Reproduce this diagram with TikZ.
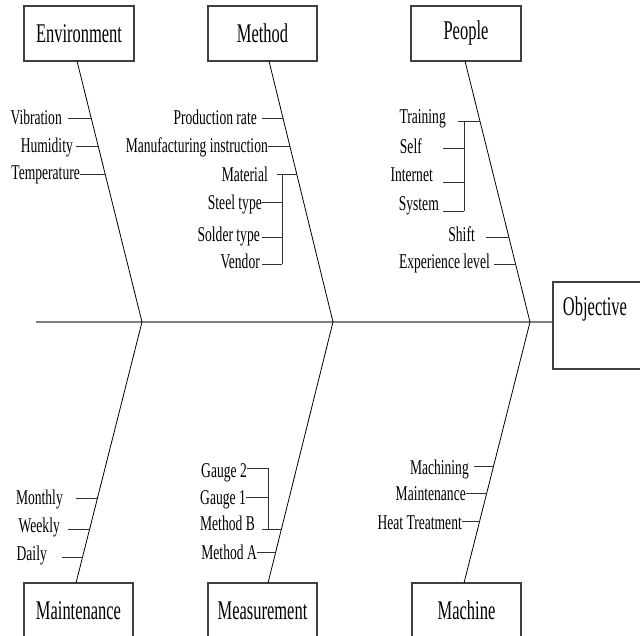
\documentclass[tikz,border=0pt]{standalone}
\usepackage{fontspec}
\newfontfamily\labfamily[FakeStretch=0.646]{Liberation Serif}
\newfontfamily\boxfamily[FakeStretch=0.61]{Liberation Serif}
\newcommand\labfont{\labfamily\fontsize{21}{24}\selectfont}
\newcommand\boxfont{\boxfamily\fontsize{27}{30}\selectfont}
\usetikzlibrary{calc}
\definecolor{spinegray}{HTML}{808080}
\definecolor{boxgray}{HTML}{404040}
\definecolor{twiggray}{HTML}{303030}
\tikzset{
  lab/.style={font=\labfont, inner sep=0pt, anchor=base east},
  catbox/.style={draw=boxgray, line width=1.2pt, font=\boxfont, minimum width=110pt, minimum height=55pt, inner sep=0pt},
  bone/.style={line width=0.8pt, black},
  twig/.style={line width=0.9pt, twiggray},
  spineline/.style={line width=1.8pt, spinegray},
}
\begin{document}
\begin{tikzpicture}[x=1pt,y=-1pt]
\useasboundingbox (0,0) rectangle (640,636);
\clip (0,0) rectangle (640,636);

% category boxes
\node[catbox] (env) at (79,33.5) {Environment};
\node[catbox, minimum width=109pt] (meth) at (262.5,33.5) {Method};
\node[catbox] (peop) at (466,33.5) {People};
\node[catbox, minimum width=109pt] (maint) at (78.5,610.5) {Maintenance};
\node[catbox, minimum width=109pt] (meas) at (262.5,610.5) {Measurement};
\node[catbox, minimum width=109pt] (mach) at (466.5,610.5) {Machine};
\node[catbox, minimum width=92pt, minimum height=87pt] (obj) at (599,325.5) {};
\node[font=\boxfont, inner sep=0pt] (objtext) at (595,309) {Objective};

% bone end points
\coordinate (eT) at (77,61);   \coordinate (eS) at (142,322);
\coordinate (mT) at (269,61);  \coordinate (mS) at (333,322);
\coordinate (pT) at (465,61);  \coordinate (pS) at (530,322);
\coordinate (aB) at (76,583);
\coordinate (sB) at (268,583);
\coordinate (cB) at (464,583);
\coordinate (tail) at (36,322);

% spine
\draw[spineline] (tail) -- (tail -| obj.west);

% bones
\draw[bone] (eT) -- (eS) -- (aB);
\draw[bone] (mT) -- (mS) -- (sB);
\draw[bone] (pT) -- (pS) -- (cB);

% junctions on bones
\coordinate (j1) at ($(eT)!{(118-61)/261}!(eS)$);
\coordinate (j2) at ($(eT)!{(146-61)/261}!(eS)$);
\coordinate (j3) at ($(eT)!{(174-61)/261}!(eS)$);
\coordinate (k1) at ($(mT)!{(118-61)/261}!(mS)$);
\coordinate (k2) at ($(mT)!{(146-61)/261}!(mS)$);
\coordinate (k3) at ($(mT)!{(174-61)/261}!(mS)$);
\coordinate (p1) at ($(pT)!{(121-61)/261}!(pS)$);
\coordinate (p2) at ($(pT)!{(237-61)/261}!(pS)$);
\coordinate (p3) at ($(pT)!{(264-61)/261}!(pS)$);
\coordinate (a1) at ($(eS)!{(498-322)/261}!(aB)$);
\coordinate (a2) at ($(eS)!{(529-322)/261}!(aB)$);
\coordinate (a3) at ($(eS)!{(557-322)/261}!(aB)$);
\coordinate (s1) at ($(mS)!{(529-322)/261}!(sB)$);
\coordinate (s2) at ($(mS)!{(552-322)/261}!(sB)$);
\coordinate (c1) at ($(pS)!{(466-322)/261}!(cB)$);
\coordinate (c2) at ($(pS)!{(493-322)/261}!(cB)$);
\coordinate (c3) at ($(pS)!{(521-322)/261}!(cB)$);

% bracket points
\coordinate (mb0) at (282,174); \coordinate (mb1) at (282,202);
\coordinate (mb2) at (282,237); \coordinate (mb3) at (282,264);
\coordinate (pb0) at (464,121); \coordinate (pb1) at (464,148);
\coordinate (pb2) at (464,182); \coordinate (pb3) at (464,211);
\coordinate (sb0) at (268,468); \coordinate (sb1) at (268,497);
\coordinate (sb2) at (268,529);

% Environment causes
\node[lab] (vib) at (62,125) {Vibration};
\node[lab] (hum) at (73,153) {Humidity};
\node[lab] (tem) at (80,180) {Temperature};
\draw[twig] ([xshift=6pt]vib.east |- j1) -- (j1);
\draw[twig] ([xshift=3pt]hum.east |- j2) -- (j2);
\draw[twig] (tem.east |- j3) -- (j3);

% Method causes
\node[lab] (prod) at (257,125) {Production rate};
\node[lab] (manu) at (268,153) {Manufacturing instruction};
\node[lab] (mat) at (268,182) {Material};
\node[lab] (steel) at (262,210) {Steel type};
\node[lab] (sold) at (260,242) {Solder type};
\node[lab] (vend) at (260,269) {Vendor};
\draw[twig] ([xshift=5pt]prod.east |- k1) -- (k1);
\draw[twig] (manu.east |- k2) -- (k2);
\draw[twig] ([xshift=9pt]mat.east |- k3) -- (k3);
\draw[twig] (mb0) -- (mb3);
\draw[twig] (steel.east |- mb1) -- (mb1);
\draw[twig] ([xshift=2pt]sold.east |- mb2) -- (mb2);
\draw[twig] ([xshift=2pt]vend.east |- mb3) -- (mb3);

% People causes
\node[lab] (trai) at (446,124) {Training};
\node[lab] (self) at (422,154) {Self};
\node[lab] (inte) at (433,182) {Internet};
\node[lab] (syst) at (439,211) {System};
\node[lab] (shif) at (475,242) {Shift};
\node[lab] (expe) at (490,269) {Experience level};
\draw[twig] ([xshift=12pt]trai.east |- p1) -- (p1);
\draw[twig] (pb0) -- (pb3);
\draw[twig] ([xshift=21pt]self.east |- pb1) -- (pb1);
\draw[twig] ([xshift=10pt]inte.east |- pb2) -- (pb2);
\draw[twig] ([xshift=4pt]syst.east |- pb3) -- (pb3);
\draw[twig] ([xshift=11pt]shif.east |- p2) -- (p2);
\draw[twig] ([xshift=4pt]expe.east |- p3) -- (p3);

% Maintenance causes
\node[lab] (mont) at (63,504) {Monthly};
\node[lab] (week) at (60,532) {Weekly};
\node[lab] (dail) at (47,560) {Daily};
\draw[twig] ([xshift=13pt]mont.east |- a1) -- (a1);
\draw[twig] ([xshift=8pt]week.east |- a2) -- (a2);
\draw[twig] ([xshift=15pt]dail.east |- a3) -- (a3);

% Measurement causes
\node[lab] (gau2) at (247,477) {Gauge 2};
\node[lab] (gau1) at (246,504) {Gauge 1};
\node[lab] (metb) at (255,530) {Method B};
\node[lab] (meta) at (257,559) {Method A};
\draw[twig] (sb0) -- (sb2);
\draw[twig] (gau2.east |- sb0) -- (sb0);
\draw[twig] (gau1.east |- sb1) -- (sb1);
\draw[twig] ([xshift=7pt]metb.east |- s1) -- (s1);
\draw[twig] (meta.east |- s2) -- (s2);

% Machine causes
\node[lab] (mchn) at (469,474) {Machining};
\node[lab] (mtnc) at (466,500) {Maintenance};
\node[lab] (heat) at (462,529) {Heat Treatment};
\draw[twig] ([xshift=5pt]mchn.east |- c1) -- (c1);
\draw[twig] (mtnc.east |- c2) -- (c2);
\draw[twig] (heat.east |- c3) -- (c3);
\end{tikzpicture}
\end{document}
